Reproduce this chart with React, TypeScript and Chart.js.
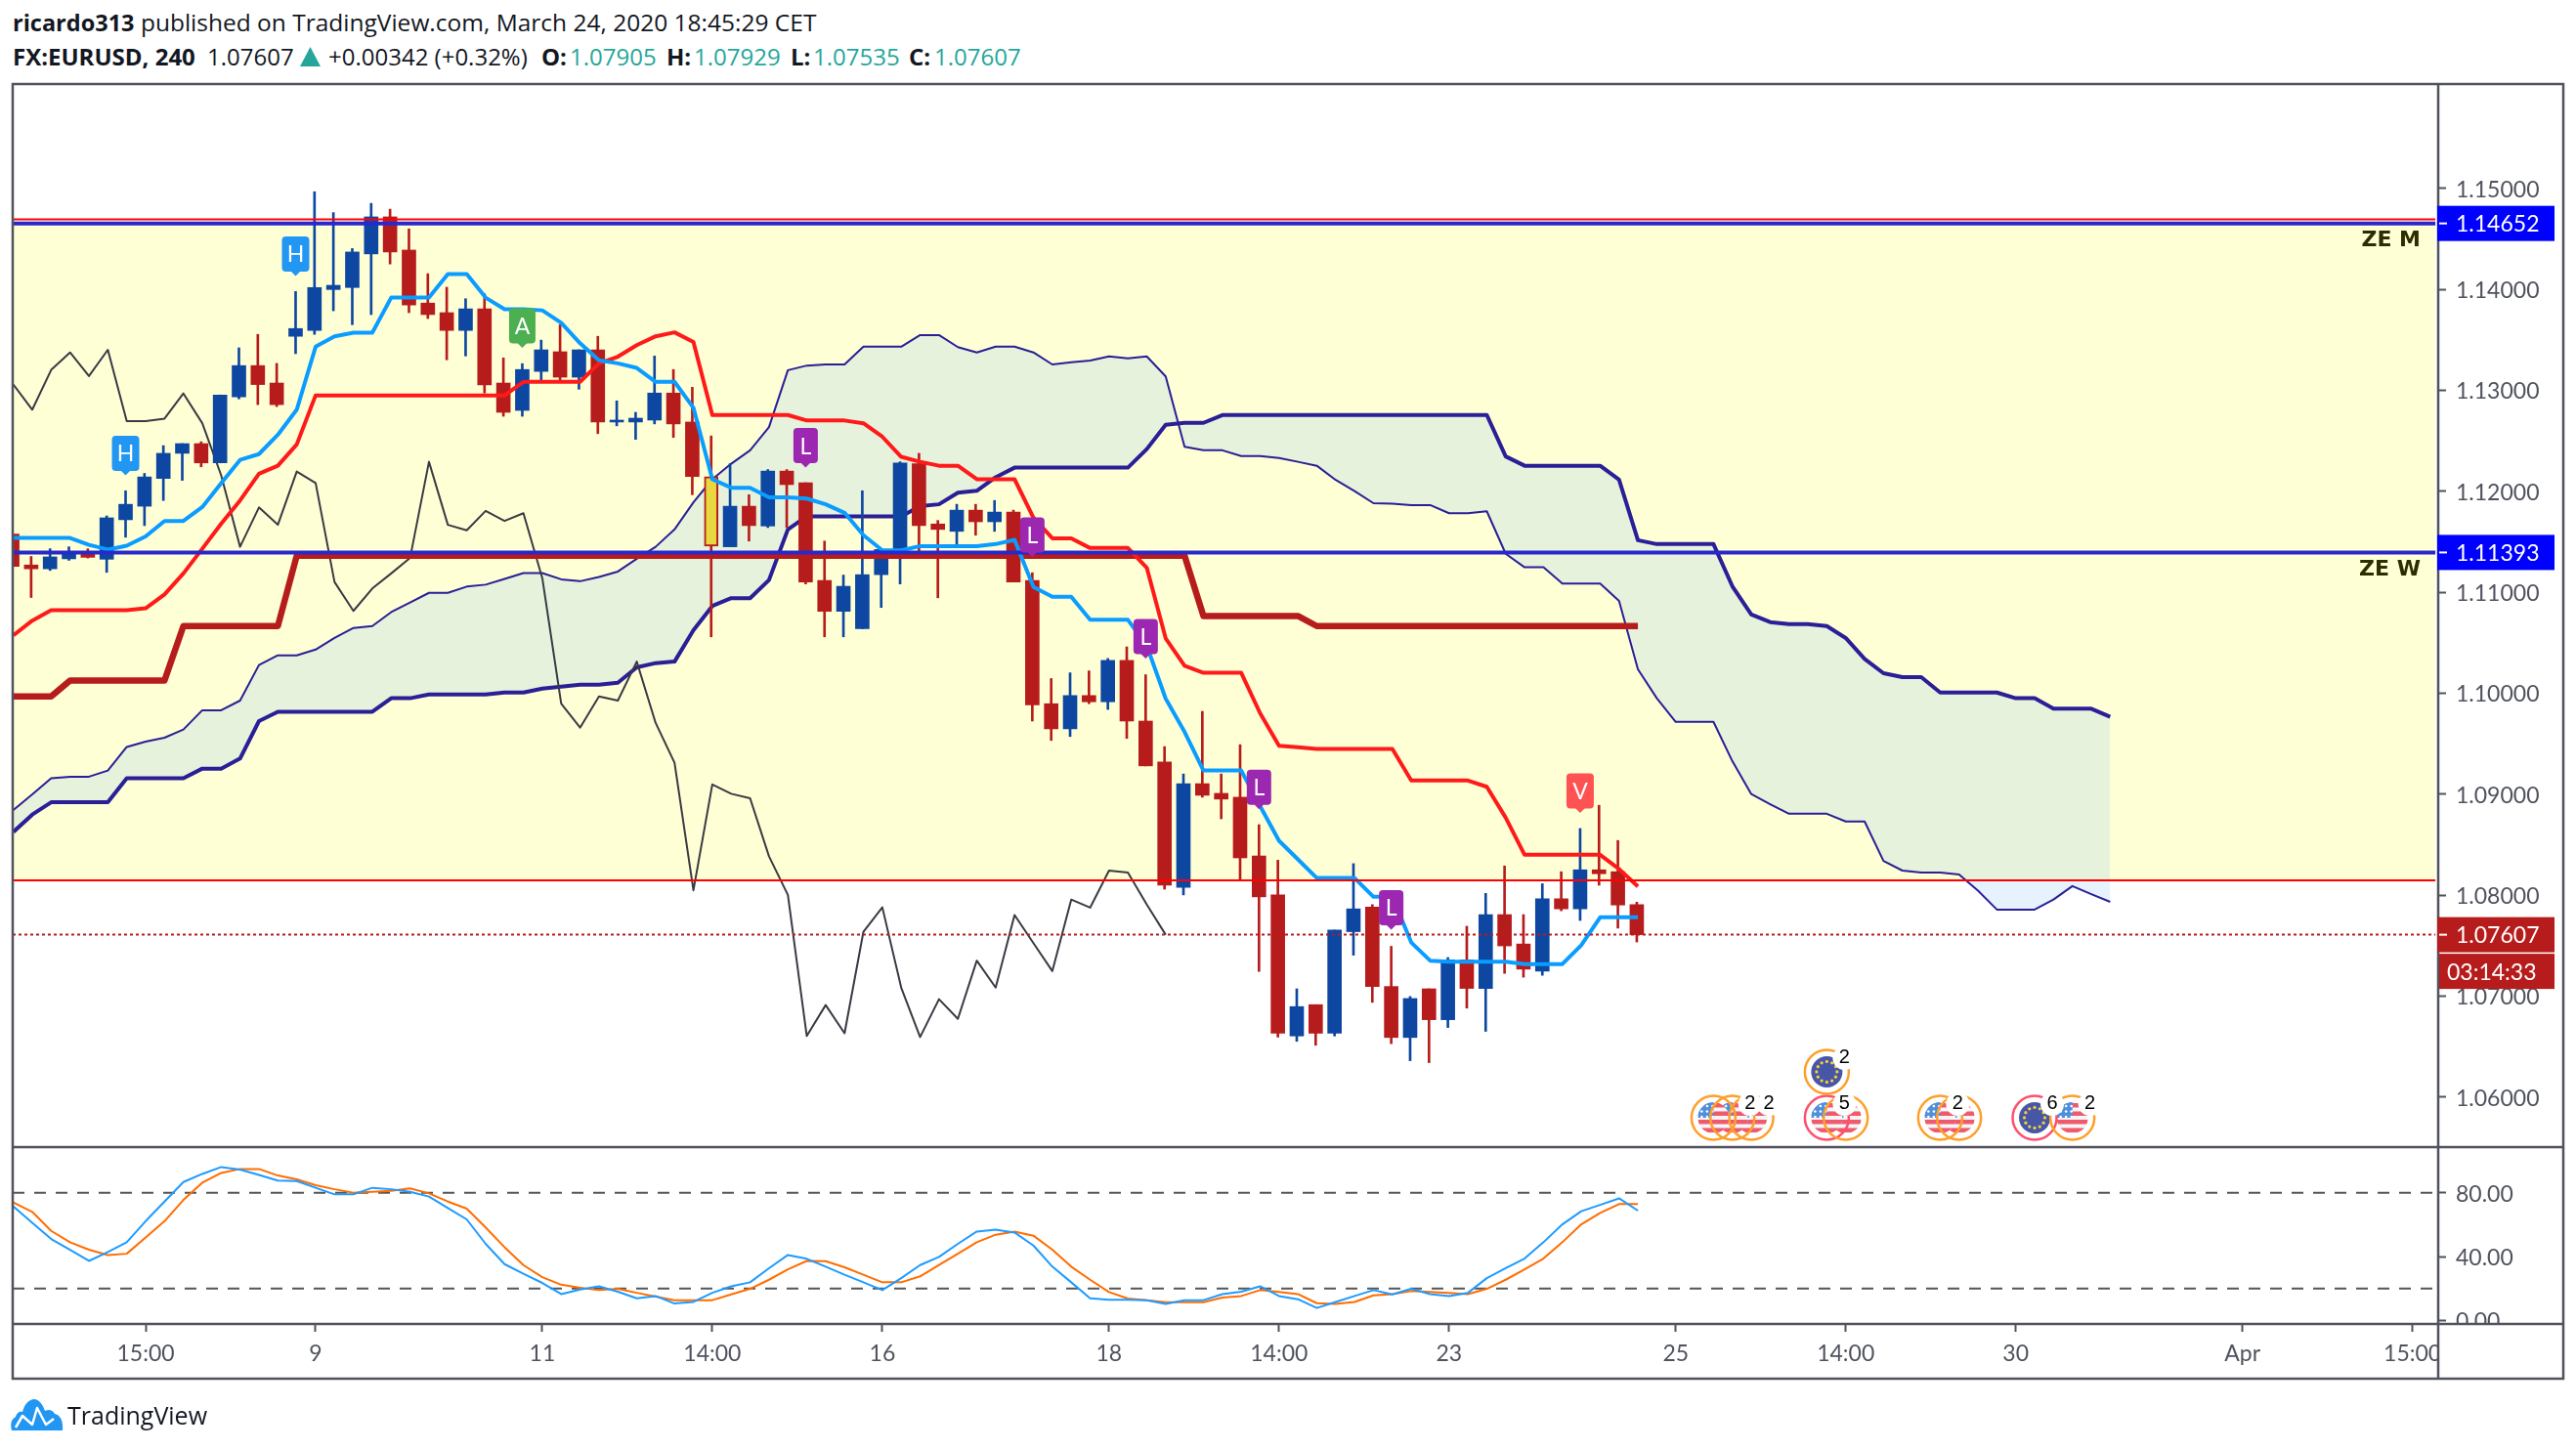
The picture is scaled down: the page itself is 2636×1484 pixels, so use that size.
import React, { useEffect, useRef } from "react";
import { Chart, registerables } from "chart.js";

Chart.register(...registerables);

const opens = [1.11575,1.11269,1.11231,1.1133,1.11384,1.11326,1.11717,1.11851,1.12126,1.12375,1.12471,1.1228,1.12934,1.13244,1.13071,1.13534,1.13592,1.13997,1.14017,1.1435,1.14717,1.14388,1.13863,1.13768,1.13592,1.13806,1.13071,1.128,1.13186,1.13381,1.13129,1.134,1.12685,1.12685,1.12704,1.12972,1.12685,1.12145,1.11449,1.11851,1.11655,1.12199,1.12084,1.11116,1.1081,1.10638,1.11173,1.11422,1.12272,1.11675,1.11602,1.11812,1.11697,1.11793,1.11116,1.09895,1.09646,1.09976,1.09914,1.10324,1.09723,1.09317,1.08077,1.09103,1.09007,1.08969,1.08387,1.08001,1.06604,1.06914,1.06631,1.07637,1.07882,1.07094,1.06589,1.07071,1.06765,1.07358,1.07075,1.07806,1.07515,1.07247,1.07963,1.07863,1.0825,1.08231,1.07905];
const highs = [1.11575,1.11353,1.1143,1.11449,1.11429,1.11755,1.12004,1.12176,1.12451,1.12471,1.1249,1.12953,1.1342,1.13553,1.13266,1.13978,1.14966,1.14759,1.14403,1.14851,1.14793,1.14598,1.14154,1.1402,1.13906,1.13955,1.1332,1.13263,1.13496,1.13649,1.134,1.13534,1.12895,1.12781,1.13339,1.13205,1.13029,1.12547,1.12272,1.11965,1.12214,1.12214,1.12084,1.11506,1.11169,1.12004,1.11422,1.12291,1.12375,1.1171,1.1187,1.1187,1.11908,1.11812,1.11192,1.10144,1.10201,1.1022,1.10343,1.10458,1.10182,1.0947,1.09199,1.09819,1.09199,1.09489,1.08697,1.08345,1.07071,1.06914,1.07653,1.08311,1.07905,1.07492,1.06995,1.07071,1.07381,1.07691,1.08016,1.08288,1.07806,1.08112,1.08231,1.08659,1.08889,1.0854,1.07929];
const lows = [1.11255,1.10947,1.11215,1.11315,1.11338,1.11196,1.11544,1.11659,1.11908,1.12107,1.12241,1.1228,1.12914,1.12857,1.12838,1.13362,1.13553,1.13787,1.13649,1.13749,1.1425,1.13768,1.1371,1.13301,1.13339,1.12972,1.12742,1.12742,1.1309,1.1309,1.1301,1.1257,1.12647,1.12513,1.12666,1.12532,1.11965,1.10557,1.11449,1.11506,1.1164,1.1164,1.11081,1.10557,1.10557,1.10638,1.10848,1.11081,1.11391,1.10944,1.11468,1.11564,1.11602,1.111,1.09723,1.09531,1.0957,1.09895,1.09838,1.09551,1.09279,1.08058,1.08001,1.08969,1.08755,1.08154,1.07243,1.06593,1.06551,1.06512,1.06604,1.07404,1.06937,1.06528,1.06359,1.0634,1.06688,1.0688,1.0665,1.07224,1.07186,1.07205,1.07844,1.07748,1.08097,1.07672,1.07535];
const closes = [1.11255,1.11231,1.11349,1.11399,1.11345,1.11736,1.1187,1.12141,1.12375,1.12471,1.1228,1.12953,1.13244,1.13056,1.12857,1.13611,1.14017,1.14039,1.14369,1.14717,1.14369,1.13844,1.13749,1.13592,1.13806,1.13052,1.12781,1.13205,1.134,1.13129,1.134,1.12685,1.12704,1.12723,1.12972,1.12666,1.12145,1.11456,1.11851,1.11659,1.12199,1.12065,1.111,1.1081,1.11058,1.11173,1.11422,1.1228,1.11659,1.11621,1.11812,1.11697,1.11793,1.111,1.09884,1.09646,1.09976,1.09914,1.10324,1.09723,1.09279,1.08097,1.09103,1.08988,1.0895,1.08368,1.07982,1.06631,1.06895,1.06631,1.07653,1.07863,1.07094,1.06589,1.06975,1.06765,1.07358,1.07075,1.07806,1.07496,1.07266,1.07963,1.07863,1.0825,1.08211,1.07901,1.07607];
const highlightedBars = [37];

const tenkan = [1.11537,1.11537,1.11537,1.11537,1.11468,1.11422,1.1146,1.11552,1.11705,1.11705,1.11843,1.1208,1.1231,1.12367,1.12559,1.12807,1.13431,1.13534,1.13569,1.13569,1.13917,1.13917,1.13917,1.1415,1.1415,1.13917,1.13802,1.13802,1.13791,1.13668,1.13465,1.13297,1.13266,1.13221,1.13083,1.13083,1.12826,1.12118,1.12034,1.12034,1.11939,1.11939,1.11927,1.1187,1.11786,1.11564,1.11414,1.11414,1.11456,1.11456,1.11456,1.11456,1.11476,1.11518,1.11051,1.10955,1.10955,1.10726,1.10726,1.10726,1.10469,1.09945,1.09616,1.09233,1.09233,1.09233,1.08881,1.08537,1.08353,1.08169,1.08169,1.08169,1.07982,1.07982,1.0753,1.0735,1.07339,1.07339,1.07339,1.07339,1.07316,1.07316,1.07316,1.07503,1.07779,1.07779,1.07779];
const kijun = [1.10572,1.10718,1.10821,1.10821,1.10821,1.10821,1.10821,1.1084,1.10978,1.11185,1.1143,1.11678,1.11908,1.12172,1.12252,1.12463,1.12949,1.12949,1.12949,1.12949,1.12949,1.12949,1.12949,1.12949,1.12949,1.12949,1.12949,1.13083,1.13083,1.13083,1.13083,1.13266,1.13332,1.13446,1.13534,1.13573,1.13477,1.12754,1.12754,1.12754,1.12754,1.12754,1.127,1.127,1.127,1.12673,1.12539,1.1234,1.12291,1.12252,1.12252,1.12118,1.12118,1.12118,1.11736,1.11533,1.11533,1.11437,1.11437,1.11437,1.11242,1.10542,1.1027,1.10201,1.10201,1.10201,1.098,1.09478,1.09463,1.09447,1.09447,1.09447,1.09447,1.09447,1.09134,1.09134,1.09134,1.09134,1.09072,1.08766,1.08399,1.08399,1.08399,1.08399,1.08399,1.08257,1.08085];
const weeklyKijun = [1.09968,1.09968,1.09968,1.10125,1.10125,1.10125,1.10125,1.10125,1.10125,1.10664,1.10664,1.10664,1.10664,1.10664,1.10664,1.11361,1.11361,1.11361,1.11361,1.11361,1.11361,1.11361,1.11361,1.11361,1.11361,1.11361,1.11361,1.11361,1.11361,1.11361,1.11361,1.11361,1.11361,1.11361,1.11361,1.11361,1.11361,1.11361,1.11361,1.11361,1.11361,1.11361,1.11361,1.11361,1.11361,1.11361,1.11361,1.11361,1.11361,1.11361,1.11361,1.11361,1.11361,1.11361,1.11361,1.11361,1.11361,1.11361,1.11361,1.11361,1.11361,1.11361,1.11361,1.10764,1.10764,1.10764,1.10764,1.10764,1.10764,1.10664,1.10664,1.10664,1.10664,1.10664,1.10664,1.10664,1.10664,1.10664,1.10664,1.10664,1.10664,1.10664,1.10664,1.10664,1.10664,1.10664,1.10664];
const senkouA = [1.08843,1.08996,1.09157,1.09172,1.09172,1.09233,1.09467,1.0952,1.09558,1.09639,1.0983,1.0983,1.09926,1.10278,1.10374,1.10374,1.10431,1.10546,1.10645,1.10664,1.10802,1.10898,1.10993,1.10993,1.11055,1.11074,1.11131,1.11189,1.11189,1.11127,1.11108,1.1115,1.11204,1.1133,1.11449,1.11621,1.11889,1.12118,1.12272,1.12405,1.12635,1.13198,1.13244,1.13255,1.13255,1.13431,1.13431,1.13431,1.13546,1.13546,1.13427,1.13374,1.13431,1.13431,1.13374,1.13255,1.13278,1.13293,1.13335,1.13316,1.13335,1.13136,1.1244,1.12405,1.12405,1.12348,1.12348,1.12329,1.12291,1.12252,1.12111,1.12,1.11881,1.11877,1.11862,1.11862,1.11782,1.11782,1.11801,1.1138,1.11246,1.11246,1.11085,1.11085,1.11085,1.10913,1.10236,1.09949,1.09715,1.09715,1.09715,1.09325,1.09,1.089,1.08805,1.08805,1.08805,1.08728,1.08728,1.08338,1.08242,1.08223,1.08223,1.08204,1.08043,1.07856,1.07856,1.07856,1.07955,1.08089,1.08009,1.07932];
const senkouB = [1.08625,1.08797,1.08919,1.08919,1.08919,1.08919,1.09157,1.09157,1.09157,1.09157,1.09252,1.09252,1.09352,1.09723,1.09815,1.09815,1.09815,1.09815,1.09815,1.09815,1.09949,1.09949,1.09987,1.09987,1.09987,1.09987,1.10006,1.10006,1.10044,1.10064,1.10083,1.10083,1.10102,1.10255,1.10297,1.10312,1.10622,1.10863,1.1094,1.1094,1.1112,1.11621,1.11751,1.11751,1.11751,1.11751,1.11751,1.11751,1.11851,1.1187,1.11985,1.12004,1.12138,1.12233,1.12233,1.12233,1.12233,1.12233,1.12233,1.12233,1.12417,1.12658,1.12677,1.12677,1.12754,1.12754,1.12754,1.12754,1.12754,1.12754,1.12754,1.12754,1.12754,1.12754,1.12754,1.12754,1.12754,1.12754,1.12754,1.12344,1.12252,1.12252,1.12252,1.12252,1.12252,1.12115,1.11514,1.11476,1.11476,1.11476,1.11476,1.11058,1.10779,1.10703,1.10683,1.10683,1.10664,1.10546,1.10339,1.10197,1.10159,1.10159,1.10006,1.10006,1.10006,1.10006,1.09949,1.09949,1.09845,1.09845,1.09845,1.09765];
const chikou = [1.13056,1.12807,1.13201,1.13374,1.1314,1.134,1.12693,1.12693,1.12719,1.12968,1.12673,1.12157,1.11449,1.11839,1.11667,1.12195,1.1208,1.11101,1.10814,1.11036,1.11185,1.11338,1.12291,1.11667,1.11613,1.11805,1.11705,1.11782,1.11139,1.09895,1.09658,1.09968,1.09926,1.10312,1.09704,1.0931,1.08047,1.09095,1.09003,1.08958,1.08384,1.08001,1.06604,1.0691,1.06631,1.07637,1.07878,1.07083,1.06593,1.06968,1.06773,1.0735,1.07083,1.07802,1.07523,1.07247,1.07955,1.07875,1.08242,1.08223,1.07905,1.07607];

const stochK = [71.4,61.2,51.0,44.3,37.3,42.9,49.0,62.2,74.5,86.7,91.8,96.1,94.5,91.2,87.6,87.3,83.1,79.0,79.0,83.1,82.2,80.6,77.6,70.4,63.3,48.0,35.3,29.2,23.5,16.5,19.4,21.4,18.0,13.9,15.3,10.6,11.6,17.3,21.4,23.9,32.7,41.0,38.6,33.7,28.6,23.9,19.0,26.5,34.7,39.8,48.0,55.7,56.9,55.1,46.9,33.7,23.9,13.9,12.9,12.9,12.7,10.4,12.7,12.7,16.5,18.0,21.4,15.3,13.3,7.8,11.6,15.3,19.0,16.3,19.8,16.5,15.3,17.3,26.5,32.7,38.8,49.0,60.2,68.4,72.4,76.5,68.8];
const stochD = [73.9,68.0,56.1,49.0,44.3,41.0,41.8,52.0,62.2,75.5,86.3,92.4,94.9,94.9,90.8,88.4,84.7,82.2,80.0,80.6,81.2,82.7,79.6,74.5,70.0,58.2,45.9,34.7,27.1,22.4,20.4,19.0,19.8,17.3,14.9,12.7,12.7,12.7,16.3,19.8,25.5,32.0,37.3,37.1,33.3,28.6,23.9,23.9,27.6,34.7,41.8,49.0,53.7,55.7,53.1,44.3,33.7,25.5,17.8,13.7,12.7,11.4,11.4,11.4,14.3,15.3,19.0,17.8,16.5,10.8,10.4,11.6,15.7,16.5,18.4,17.8,17.3,16.5,19.8,25.5,32.0,38.8,49.0,60.2,67.3,72.9,72.9];

const priceTicks = [1.06,1.07,1.08,1.09,1.1,1.11,1.12,1.13,1.14,1.15];
const stochTicks = [0,40,80];
const stochBands = [80,20];
const timeTickBars = [7,16,28,37,46,58,67,76,88,97,106,118,127];
const timeTickLabels = ["15:00","9","11","14:00","16","18","14:00","23","25","14:00","30","Apr","15:00"];

const zoneTopPrice = 1.14652;
const zoneBottomPrice = 1.08146;
const monthlyRedPrice = 1.14693;
const weeklyPrice = 1.11393;
const lastPrice = 1.07607;
const countdown = "03:14:33";

const signalBars = [6,15,27,42,54,60,66,73,83];
const signalPrices = [1.12157,1.14131,1.1342,1.12233,1.11349,1.10343,1.0885,1.07656,1.08812];
const signalTexts = ["H","H","A","L","L","L","L","L","V"];
const signalColors = ["#2196f3","#2196f3","#4caf50","#9c27b0","#9c27b0","#9c27b0","#9c27b0","#9c27b0","#ff5252"];

const eventBars = [90,91,92,96,97,96,102,103,107,109];
const eventPrices = [1.05794,1.05794,1.05794,1.05794,1.05794,1.06249,1.05794,1.05794,1.05794,1.05794];
const eventFlags = ["us","us","us","us","us","eu","us","us","eu","us"];
const eventRings = ["#ff9f2a","#ff9f2a","#ff9f2a","#ff4f6d","#ff9f2a","#ff9f2a","#ff9f2a","#ff9f2a","#ff4f6d","#ff9f2a"];
const eventCounts = ["","2","2","5","","2","2","","6","2"];

const AXIS = "#50535e";
const AXIS_FONT = "Lato";
const UP = "#0d47a1";
const DOWN = "#b71c1c";
const LEFT_X = 13, TOP_Y = 86, RIGHT_X = 2623, BOTTOM_Y = 1411, PRICE_W = 128;
const BAR0_PX = 13.7, BAR_PX = 19.33;
const CANDLE_SHIFT = -0.06;
const xMin = (LEFT_X - BAR0_PX) / BAR_PX;
const xMax = (2495 - BAR0_PX) / BAR_PX;
const levelEnd = xMax - 0.15;

const series = (values: number[]) => values.map((y, x) => ({ x, y }));
const level = (y: number) => [{ x: xMin, y }, { x: levelEnd, y }];

function usFlag(ctx: CanvasRenderingContext2D, x: number, y: number, r: number) {
  ctx.save();
  ctx.beginPath(); ctx.arc(x, y, r, 0, Math.PI * 2); ctx.clip();
  ctx.fillStyle = "#f4f5f7"; ctx.fillRect(x - r, y - r, 2 * r, 2 * r);
  ctx.fillStyle = "#ef5a6c";
  for (let k = 0; k < 4; k++) ctx.fillRect(x - r, y - r + 1 + k * 8.5, 2 * r, 4.5);
  ctx.fillStyle = "#4f8fdc"; ctx.fillRect(x - r, y - r, r, r);
  ctx.fillStyle = "#fff";
  for (let a = 0; a < 3; a++) for (let b = 0; b < 3; b++) {
    ctx.beginPath(); ctx.arc(x - r + 4 + b * 5.5, y - r + 4 + a * 5.5, 1.3, 0, Math.PI * 2); ctx.fill();
  }
  ctx.restore();
}

function euFlag(ctx: CanvasRenderingContext2D, x: number, y: number, r: number) {
  ctx.fillStyle = "#4757a5";
  ctx.beginPath(); ctx.arc(x, y, r, 0, Math.PI * 2); ctx.fill();
  ctx.fillStyle = "#f6cf3f";
  for (let k = 0; k < 12; k++) {
    const a = (k * Math.PI) / 6;
    ctx.beginPath(); ctx.arc(x + Math.cos(a) * 10.5, y + Math.sin(a) * 10.5, 1.6, 0, Math.PI * 2); ctx.fill();
  }
}

const overlayPlugin = {
  id: "overlay",
  afterDatasetsDraw(chart: any) {
    const { ctx, scales } = chart;
    const x = scales.x, y = scales.y, y2 = scales.y2;
    ctx.save();
    ctx.textBaseline = "middle";

    // pins
    signalBars.forEach((bar, k) => {
      const px = x.getPixelForValue(bar + CANDLE_SHIFT), tip = y.getPixelForValue(signalPrices[k]);
      const t = signalTexts[k];
      const w = t === "L" ? 25 : t === "A" ? 27 : 28, h = 36, bottom = tip - 4.5;
      ctx.fillStyle = signalColors[k];
      ctx.beginPath();
      ctx.roundRect(px - w / 2, bottom - h, w, h, 4);
      ctx.fill();
      ctx.beginPath();
      ctx.moveTo(px - 5, bottom - 0.5); ctx.lineTo(px + 5, bottom - 0.5); ctx.lineTo(px, tip); ctx.closePath();
      ctx.fill();
      ctx.fillStyle = "#fff";
      ctx.font = `23px ${AXIS_FONT}`;
      ctx.textAlign = "center";
      ctx.fillText(t, px, bottom - h / 2 + 1);
    });

    // events: the earliest flag stays on top, rings pass over all flags
    for (let k = eventBars.length - 1; k >= 0; k--) {
      const px = x.getPixelForValue(eventBars[k]), py = y.getPixelForValue(eventPrices[k]);
      if (eventFlags[k] === "us") usFlag(ctx, px, py, 16); else euFlag(ctx, px, py, 16);
    }
    eventBars.forEach((bar, k) => {
      const px = x.getPixelForValue(bar), py = y.getPixelForValue(eventPrices[k]);
      ctx.strokeStyle = eventRings[k];
      ctx.lineWidth = 2.5;
      ctx.beginPath(); ctx.arc(px, py, 22.5, 0, Math.PI * 2); ctx.stroke();
    });
    eventBars.forEach((bar, k) => {
      if (!eventCounts[k]) return;
      const px = x.getPixelForValue(bar) + 18, py = y.getPixelForValue(eventPrices[k]) - 14;
      ctx.fillStyle = "#fff";
      ctx.beginPath(); ctx.arc(px, py, 12, 0, Math.PI * 2); ctx.fill();
    });
    eventBars.forEach((bar, k) => {
      if (!eventCounts[k]) return;
      const px = x.getPixelForValue(bar) + 18, py = y.getPixelForValue(eventPrices[k]) - 14;
      ctx.fillStyle = "#000";
      ctx.font = "20px 'Liberation Sans'";
      ctx.textAlign = "center";
      ctx.fillText(eventCounts[k], px, py);
    });

    // zone captions
    ctx.fillStyle = "#2d2e00";
    ctx.font = "bold 22px 'DejaVu Sans'";
    ctx.textAlign = "right";
    ctx.fillText("ZE M", 2477, y.getPixelForValue(zoneTopPrice) + 18);
    ctx.fillText("ZE W", 2477, y.getPixelForValue(weeklyPrice) + 18);

    // frame and axis cover
    const axisX = x.right;
    ctx.fillStyle = "#fff";
    ctx.fillRect(axisX, y2.bottom, RIGHT_X - axisX, BOTTOM_Y - y2.bottom);
    ctx.strokeStyle = AXIS;
    ctx.lineWidth = 2.5;
    ctx.strokeRect(LEFT_X, TOP_Y, RIGHT_X - LEFT_X, BOTTOM_Y - TOP_Y);
    ctx.beginPath();
    ctx.moveTo(LEFT_X, y.bottom); ctx.lineTo(RIGHT_X, y.bottom);
    ctx.moveTo(LEFT_X, y2.bottom); ctx.lineTo(RIGHT_X, y2.bottom);
    ctx.moveTo(axisX, TOP_Y); ctx.lineTo(axisX, BOTTOM_Y);
    ctx.stroke();

    // price tags
    const tag = (price: number, bg: string, text: string, tick: boolean, dy = 0, left = axisX - 1, textX = 2513) => {
      const py = y.getPixelForValue(price) + dy;
      ctx.fillStyle = bg;
      ctx.fillRect(left, py - 18, 2614 - left, 36);
      if (tick) {
        ctx.fillStyle = "#fff";
        ctx.fillRect(axisX + 1, py - 1, 8, 2);
      }
      ctx.fillStyle = "#fff";
      ctx.font = `23px ${AXIS_FONT}`;
      ctx.textAlign = "left";
      ctx.fillText(text, textX, py + 1);
    };
    tag(zoneTopPrice, "#0000ff", zoneTopPrice.toFixed(5), true);
    tag(weeklyPrice, "#0000ff", weeklyPrice.toFixed(5), true);
    tag(lastPrice, DOWN, lastPrice.toFixed(5), true);
    tag(lastPrice, DOWN, countdown, false, 37.5, axisX + 1, 2504);
    ctx.restore();
  },
};

export default function App() {
  const ref = useRef<HTMLCanvasElement | null>(null);
  useEffect(() => {
    document.body.style.margin = "0";
    const line = (data: any[], color: string, width: number, order: number, yAxisID = "y", extra: any = {}) => ({
      type: "line", data, borderColor: color, borderWidth: width, pointRadius: 0, tension: 0,
      fill: false, order, yAxisID, borderJoinStyle: "round", ...extra,
    });
    const bars = opens.map((_, i) => i);
    const bodyColors = bars.map((i) => highlightedBars.includes(i) ? "#e6d83e" : closes[i] >= opens[i] ? UP : DOWN);
    const wickColors = bars.map((i) => (closes[i] >= opens[i] ? UP : DOWN));
    const datasets: any[] = [
      line(level(zoneTopPrice), "transparent", 0, 100, "y", { label: "Zone top", fill: "+1", backgroundColor: "#ffffd6" }),
      line(level(zoneBottomPrice), "transparent", 0, 99, "y", { label: "Zone bottom" }),
      line(series(senkouA), "#2a1f96", 2, 90, "y", { label: "Senkou A", fill: "+1", backgroundColor: "rgba(130,190,244,0.2)" }),
      line(series(senkouB), "#2a1f96", 4, 89, "y", { label: "Senkou B" }),
      line(series(chikou), "#3a3a44", 2, 80, "y", { label: "Chikou" }),
      {
        type: "bar", label: "Wicks", grouped: false, barThickness: 2, order: 50, yAxisID: "y",
        data: bars.map((x) => ({ x: x + CANDLE_SHIFT, y: [lows[x], highs[x]] })),
        backgroundColor: wickColors, borderWidth: 0,
      },
      {
        type: "bar", label: "Candles", grouped: false, barThickness: 14, order: 49, yAxisID: "y",
        data: bars.map((x) => ({ x: x + CANDLE_SHIFT, y: [opens[x], closes[x]] })),
        backgroundColor: bodyColors, borderColor: DOWN, borderSkipped: false,
        borderWidth: bars.map((i) => (highlightedBars.includes(i) ? 2 : 0)),
      },
      line(series(weeklyKijun), DOWN, 6.5, 30, "y", { label: "Kijun W", borderCapStyle: "butt" }),
      line(series(kijun), "#ff1a1a", 4, 29, "y", { label: "Kijun" }),
      line(series(tenkan), "#0a9dff", 4, 28, "y", { label: "Tenkan" }),
      line(level(monthlyRedPrice), "#ff0000", 2, 20, "y", { label: "ZE M red" }),
      line(level(zoneTopPrice), "#2828cc", 4, 19, "y", { label: "ZE M" }),
      line(level(weeklyPrice), "#2828cc", 4, 18, "y", { label: "ZE W" }),
      line(level(zoneBottomPrice), "#ff0000", 2, 17, "y", { label: "Support" }),
      line(level(lastPrice), DOWN, 2, 16, "y", { label: "Last", borderDash: [3, 3] }),
      line(level(stochBands[0]), "#555", 2, 60, "y2", { label: "Band 80", borderDash: [12, 10] }),
      line(level(stochBands[1]), "#555", 2, 60, "y2", { label: "Band 20", borderDash: [12, 10] }),
      line(series(stochD), "#ff6d00", 2, 10, "y2", { label: "%D" }),
      line(series(stochK), "#1e9bff", 2, 9, "y2", { label: "%K" }),
    ];
    const axisTicks = { color: AXIS, font: { family: AXIS_FONT, size: 23 }, padding: 10 };
    const yAxis = (values: number[], digits: number, stackWeight: number, min: number, max: number) => ({
      type: "linear", position: "right", stack: "panes", stackWeight, min, max,
      border: { display: false },
      grid: { drawOnChartArea: false, drawTicks: true, tickLength: 8, tickColor: AXIS, tickWidth: 2 },
      ticks: { ...axisTicks, labelOffset: 1.5, callback: (v: number) => Number(v).toFixed(digits), autoSkip: false },
      afterBuildTicks: (s: any) => { s.ticks = values.map((value) => ({ value })); },
      afterFit: (s: any) => { s.width = PRICE_W; },
    });
    const chart = new Chart(ref.current as HTMLCanvasElement, {
      type: "bar",
      data: { datasets },
      plugins: [overlayPlugin],
      options: {
        responsive: false,
        animation: false,
        devicePixelRatio: 1,
        layout: { padding: { left: LEFT_X, top: TOP_Y, right: 2636 - RIGHT_X, bottom: 1484 - BOTTOM_Y } },
        plugins: { legend: { display: false }, tooltip: { enabled: false }, title: { display: false } },
        scales: {
          x: {
            type: "linear", min: xMin, max: xMax, offset: false,
            border: { display: false },
            grid: { offset: false, drawOnChartArea: false, drawTicks: true, tickLength: 8, tickColor: AXIS, tickWidth: 2 },
            ticks: {
              ...axisTicks, padding: 9, autoSkip: false, maxRotation: 0, minRotation: 0, includeBounds: false,
              callback: (v: number) => timeTickLabels[timeTickBars.indexOf(v)] ?? "",
            },
            afterBuildTicks: (s: any) => { s.ticks = timeTickBars.map((value) => ({ value })); },
            afterFit: (s: any) => { s.height = 56; },
          },
          y: yAxis(priceTicks, 5, 1088, 1.055033, 1.160326),
          y2: yAxis(stochTicks, 2, 181, -2.2, 108.6),
        },
      } as any,
    } as any);
    return () => chart.destroy();
  }, []);

  const abs = (left: number, top: number, extra: React.CSSProperties = {}): React.CSSProperties => ({
    position: "absolute", left, top, whiteSpace: "nowrap", lineHeight: "34px", ...extra,
  });
  const teal = "#26a69a";
  const ink = "#131722";
  return (
    <div style={{ position: "relative", width: 2636, height: 1484, background: "#fff", overflow: "hidden", fontFamily: "'Open Sans'", fontSize: 24, color: ink }}>
      <div style={abs(13, 6, { fontSize: 24.5 })}><b style={{ fontSize: 23.5 }}>ricardo313</b> published on TradingView.com, March 24, 2020 18:45:29 CET</div>
      <b style={abs(13, 41)}>FX:EURUSD, 240</b>
      <span style={abs(212, 41)}>1.07607</span>
      <svg style={{ position: "absolute", left: 307, top: 48 }} width="21" height="21"><path d="M10.5 0 L21 20 L0 20 Z" fill={teal} /></svg>
      <span style={abs(336, 41)}>+0.00342 (+0.32%)</span>
      <b style={abs(554, 41)}>O:</b><span style={abs(583, 41, { color: teal })}>1.07905</span>
      <b style={abs(682, 41)}>H:</b><span style={abs(710, 41, { color: teal })}>1.07929</span>
      <b style={abs(809, 41)}>L:</b><span style={abs(832, 41, { color: teal })}>1.07535</span>
      <b style={abs(930, 41)}>C:</b><span style={abs(956, 41, { color: teal })}>1.07607</span>
      <canvas ref={ref} width={2636} height={1484} style={{ position: "absolute", left: 0, top: 0, width: 2636, height: 1484 }} />
      <svg style={{ position: "absolute", left: 11, top: 1432 }} width="54" height="32" viewBox="0 0 54 32">
        <path d="M1 32 C-1 25 1 20 5 18 C6 14 9 12 12 13 C14 5 19 0 24 0 C29 0 33 6 35 12 C39 10 43 11 45 15 C50 16 54 21 53 32 Z" fill="#2196f3" />
        <path d="M5 29 L12 17 L22 26 L27 9 L36 26 L44 20" fill="none" stroke="#fff" strokeWidth="2.5" strokeLinejoin="round" />
      </svg>
      <div style={abs(69, 1431, { color: "#131722", fontSize: 25 })}>TradingView</div>
    </div>
  );
}
